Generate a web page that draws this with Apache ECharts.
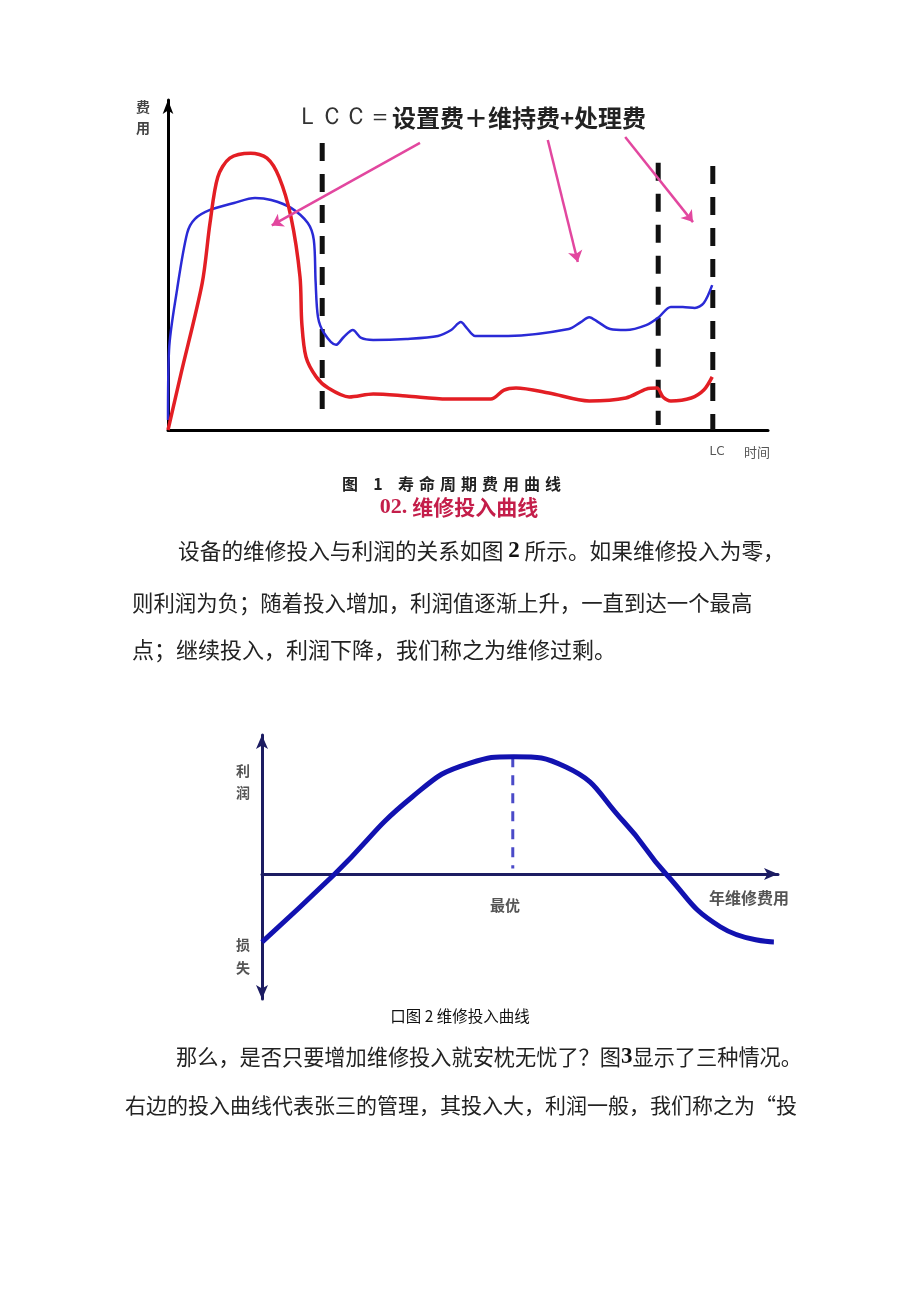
<!DOCTYPE html>
<html><head><meta charset="utf-8">
<script src="https://cdn.jsdelivr.net/npm/echarts@6/dist/echarts.min.js"></script>
<style>html,body{margin:0;padding:0;background:#fff;}#c{width:920px;height:1301px;}</style>
</head><body><div id="c"></div>
<script>
// ---- Figure 1: life-cycle cost curves (time 0..100, cost 0..100) ----
const blueCurve = [[0,3],[0.17,24.2],[1.5,42.4],[3.2,59.7],[4.5,64],[7,66.7],[11,68.8],[14.5,70.3],[17.2,69.7],[20.5,67.3],[23.3,62.7],[24.3,57.6],[24.6,45],[25,34.2],[26,29.4],[28,25.8],[29.3,28.2],[30.8,30.3],[32.2,27.9],[34.2,27.3],[39.7,27.6],[45,28.5],[47.2,30.3],[48.8,32.7],[49.8,30.9],[51.2,28.5],[56.7,28.5],[66.8,30.6],[68.8,32.7],[70.2,34.2],[71.7,32.7],[73.7,30.6],[76.3,30.3],[79.7,31.8],[81.8,34.2],[83.8,37.3],[85.8,37.3],[87.8,37],[89.3,38.5],[90.7,43.9]];
const redCurve = [[0,0],[2.2,17.3],[5.7,44.5],[7,62.7],[8.3,76.7],[10.3,82.4],[13.8,83.9],[16.5,82.4],[18.5,76.7],[20.5,64.5],[22,46.4],[22.3,32.4],[23,22.1],[24.7,16.1],[26.7,12.7],[30.2,10],[34.2,10.9],[39.7,10.3],[46.5,9.4],[53.8,9.4],[56,12.1],[58,12.7],[63.5,11.2],[70.2,8.8],[76.3,9.7],[79.7,12.4],[81.5,12.7],[82.5,10],[83.8,8.8],[87.2,9.7],[89.3,12.1],[90.7,16.1]];
const phaseLines = [[25.7,87,4.5],[81.7,81,1.5],[90.8,80,0]]; // x, top, bottom
const pointerArrows = [[[42,87],[17.3,62]],[[63.3,87.9],[68.3,50.9]],[[76.2,88.8],[87.5,63]]];
// ---- Figure 2: maintenance investment vs profit ----
const profitCurve = [[0,-24.5],[14.1,0],[29.1,27.7],[40.3,39.9],[48.8,42.2],[58.9,38.5],[70.2,18.6],[78.3,0],[88.8,-19],[99.2,-24.5]];
const optimumLine = [[48.6,42],[48.6,2]];

const CJK = '"Noto Sans CJK SC", "Noto Sans", sans-serif';
const SERIF = '"Liberation Serif", "DejaVu Serif", serif';

function txt(x, y, text, opt) {
  return {type:'text', x:x, y:y, silent:true, style:Object.assign({text:text, fontFamily:CJK, fontSize:22, fill:'#222', textAlign:'left', textVerticalAlign:'middle'}, opt||{})};
}
const graphics = [];
// Figure 1 texts
graphics.push(txt(471,118,'{a|ＬＣＣ＝}{b|设置费＋维持费+处理费}',{textAlign:'center', rich:{a:{fontFamily:SERIF, fontSize:24, fill:'#333'}, b:{fontFamily:CJK, fontSize:24, fontWeight:'bold', fill:'#222'}}}));
graphics.push(txt(143,107,'费',{fontSize:14,fontWeight:'bold',fill:'#444',textAlign:'center'}));
graphics.push(txt(143,128,'用',{fontSize:14,fontWeight:'bold',fill:'#444',textAlign:'center'}));
graphics.push(txt(717,452,'LC',{fontSize:12,fill:'#555',textAlign:'center',fontFamily:'"DejaVu Sans", sans-serif'}));
graphics.push(txt(757,452,'时间',{fontSize:13,fill:'#555',textAlign:'center'}));
// caption 1 with letter spacing
const cap1 = ['图','1','寿','命','周','期','费','用','曲','线'];
const cap1x = [350,378,406,427,448,469,490,511,532,553];
cap1.forEach((ch,i)=>graphics.push(txt(cap1x[i],484,ch,{fontSize:16,fontWeight:'bold',fill:'#222',textAlign:'center'})));
graphics.push(txt(459,507,'{a|02.} {b|维修投入曲线}',{textAlign:'center', rich:{a:{fontFamily:SERIF,fontSize:22,fontWeight:'bold',fill:'#c41e4a'}, b:{fontFamily:CJK,fontSize:21,fill:'#c41e4a',fontWeight:'bold'}}}));
// paragraph
const B = {b:{fontFamily:SERIF,fontWeight:'bold',fontSize:23,fill:'#111'}};
graphics.push(txt(178,551,'设备的维修投入与利润的关系如图 {b|2} 所示。如果维修投入为零，',{rich:B, fontSize:21.7}));
graphics.push(txt(132,603,'则利润为负；随着投入增加，利润值逐渐上升，一直到达一个最高',{fontSize:21.4}));
graphics.push(txt(132,650,'点；继续投入，利润下降，我们称之为维修过剩。',{fontSize:22}));
// Figure 2 texts
graphics.push(txt(243,771,'利',{fontSize:14,fontWeight:'bold',fill:'#555',textAlign:'center'}));
graphics.push(txt(243,793,'润',{fontSize:14,fontWeight:'bold',fill:'#555',textAlign:'center'}));
graphics.push(txt(243,945,'损',{fontSize:14,fontWeight:'bold',fill:'#555',textAlign:'center'}));
graphics.push(txt(243,968,'失',{fontSize:14,fontWeight:'bold',fill:'#555',textAlign:'center'}));
graphics.push(txt(505,905,'最优',{fontSize:15,fontWeight:'bold',fill:'#555',textAlign:'center'}));
graphics.push(txt(749,898,'年维修费用',{fontSize:16,fontWeight:'bold',fill:'#555',textAlign:'center'}));
graphics.push(txt(460,1016,'口图 2 维修投入曲线',{fontSize:15.5,fill:'#111',textAlign:'center'}));
// bottom paragraph
graphics.push(txt(176,1057,'那么，是否只要增加维修投入就安枕无忧了？图{b|3}显示了三种情况。',{rich:B, fontSize:21.2}));
graphics.push(txt(125,1105,'右边的投入曲线代表张三的管理，其投入大，利润一般，我们称之为“投',{fontSize:21}));

const hidden = {axisTick:{show:false}, axisLabel:{show:false}, splitLine:{show:false}};

const series = [];
phaseLines.forEach(p=>series.push({type:'line', xAxisIndex:0, yAxisIndex:0, data:[[p[0],p[1]],[p[0],p[2]]], symbol:'none', silent:true, lineStyle:{color:'#111', width:5, type:[18,13]}, z:3}));
series.push({type:'line', xAxisIndex:0, yAxisIndex:0, data:blueCurve, symbol:'none', smooth:0.3, lineStyle:{color:'#2a2ad6', width:2.5}, z:4});
series.push({type:'line', xAxisIndex:0, yAxisIndex:0, data:redCurve, symbol:'none', smooth:0.3, lineStyle:{color:'#e31e24', width:3.5}, z:5});
series.push({type:'lines', coordinateSystem:'cartesian2d', xAxisIndex:0, yAxisIndex:0, data:pointerArrows.map(a=>({coords:a})), symbol:['none','arrow'], symbolSize:11, lineStyle:{color:'#e2479f', width:2.5, opacity:1, curveness:0}, z:6, silent:true});
series.push({type:'line', xAxisIndex:1, yAxisIndex:1, data:optimumLine, symbol:'none', lineStyle:{color:'#4a4ac8', width:3, type:[10,8]}, z:3});
series.push({type:'line', xAxisIndex:1, yAxisIndex:1, data:profitCurve, symbol:'none', smooth:0.5, lineStyle:{color:'#1212b0', width:5}, z:4});

const chart = echarts.init(document.getElementById('c'), null, {renderer:'canvas'});
chart.setOption({
  animation:false,
  backgroundColor:'#fff',
  grid:[
    {left:168, top:100, width:600, height:330},
    {left:262, top:735, width:516, height:264}
  ],
  xAxis:[
    Object.assign({type:'value', gridIndex:0, min:0, max:100, axisLine:{onZero:true, lineStyle:{color:'#000', width:3}}}, hidden),
    Object.assign({type:'value', gridIndex:1, min:0, max:100, axisLine:{onZero:true, symbol:['none','arrow'], symbolSize:[9,14], lineStyle:{color:'#1c1c62', width:3}}}, hidden)
  ],
  yAxis:[
    Object.assign({type:'value', gridIndex:0, min:0, max:100, axisLine:{show:true, symbol:['none','arrow'], symbolSize:[8,14], lineStyle:{color:'#000', width:3}}}, hidden),
    Object.assign({type:'value', gridIndex:1, min:-45, max:50, axisLine:{show:true, onZero:false, symbol:['arrow','arrow'], symbolSize:[9,14], lineStyle:{color:'#1c1c62', width:3}}}, hidden)
  ],
  graphic:graphics,
  series:series
});
</script></body></html>
